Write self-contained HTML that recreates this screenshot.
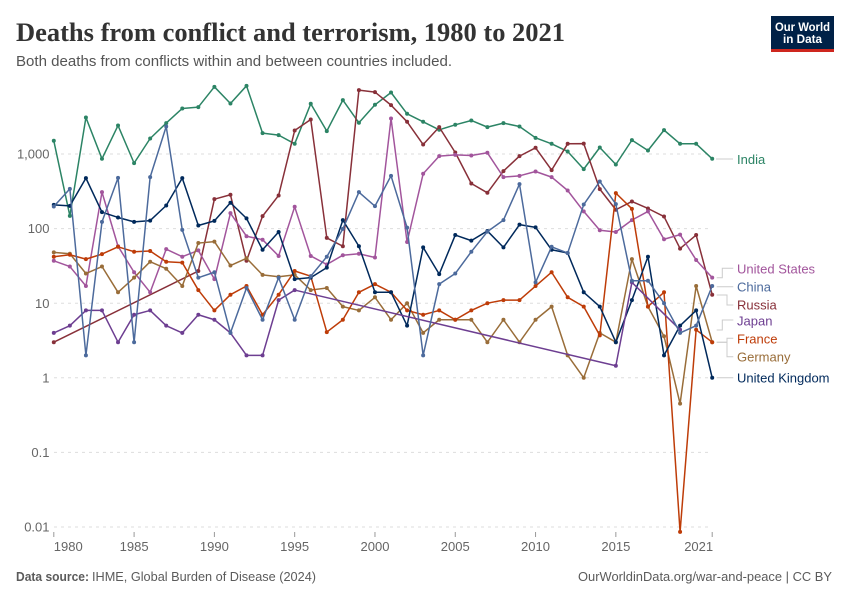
<!DOCTYPE html>
<html lang="en">
<head>
<meta charset="utf-8">
<title>Deaths from conflict and terrorism, 1980 to 2021</title>
<style>
html,body{margin:0;padding:0;background:#fff;width:850px;height:600px;overflow:hidden}
svg{display:block}
text{font-family:"Liberation Sans",sans-serif}
</style>
</head>
<body>
<svg id="chart" xmlns="http://www.w3.org/2000/svg" width="850" height="600" viewBox="0 0 850 600">
  <rect x="0" y="0" width="850" height="600" fill="#fff"/>
  <text x="16" y="41" font-size="26" font-weight="700" fill="#333" style="font-family:'Liberation Serif',serif" textLength="549" lengthAdjust="spacingAndGlyphs">Deaths from conflict and terrorism, 1980 to 2021</text>
  <text x="16" y="66" font-size="14.5" fill="#555" textLength="436" lengthAdjust="spacingAndGlyphs">Both deaths from conflicts within and between countries included.</text>
  <g>
    <rect x="771" y="16" width="63" height="36" fill="#002147"/>
    <rect x="771" y="49" width="63" height="3" fill="#ce261e"/>
    <text x="802.5" y="31" font-size="12" font-weight="700" fill="#fff" text-anchor="middle" textLength="55" lengthAdjust="spacingAndGlyphs">Our World</text>
    <text x="802.5" y="43" font-size="12" font-weight="700" fill="#fff" text-anchor="middle" textLength="39" lengthAdjust="spacingAndGlyphs">in Data</text>
  </g>
  <g id="grid"></g>
  <g id="xaxis"></g>
  <g id="leaders"></g>
  <g id="series"></g>
  <g id="labels"></g>
  <text y="581" font-size="13" fill="#5b5b5b"><tspan x="16" font-weight="700" textLength="73" lengthAdjust="spacingAndGlyphs">Data source:</tspan><tspan x="92" textLength="224" lengthAdjust="spacingAndGlyphs">IHME, Global Burden of Disease (2024)</tspan></text>
  <text x="578" y="581" font-size="13" fill="#5b5b5b" textLength="254" lengthAdjust="spacingAndGlyphs">OurWorldinData.org/war-and-peace | CC BY</text>
</svg>
<script>
const years = [];
for (let yr = 1980; yr <= 2021; yr++) years.push(yr);

const india = [1503,148,3085,862,2410,755,1614,2595,4074,4254,
  7950,4753,8204,1906,1792,1370,4710,2027,5276,2620,
  4565,6677,3458,2701,2110,2462,2813,2292,2595,2338,
  1648,1370,1081,627,1222,723,1536,1114,2090,1370,
  1370,862];
const russia = [3,null,null,null,null,null,null,null,null,27,
  248,284,37,147,278,2066,2902,75,58,7182,
  6760,4522,2701,1340,2292,1047,402,302,590,937,
  1211,608,1370,1380,338,179,231,186,145,54,
  82,13];
const unitedStates = [37,31,17,308,58,26,14,53,42,51,
  21,161,79,71,43,196,43,33,44,46,
  41,2992,66,543,937,975,955,1038,490,510,
  583,490,324,170,95,90,130,170,72,83,
  38,22];
const germany = [48,46,25,31,14,22,36,29,17,64,
  67,32,40,24,22.6,24,15,16,9,8,
  12,6,10,4,6,6,6,3,6,3,
  6,9,2,1,4,3,39,9,3.6,0.45,
  17,3];
const france = [42,44.6,39,45.5,57,49,50,36,35,15,
  8,13,17,7,13,27,23,4.1,6,14,
  18,14,8,7,8,6,8,10,11,11,
  17,26,12,9,3.7,299,184,9,14,0.0086,
  4.4,3];
const unitedKingdom = [208,202,475,166,141,123,128,204,475,110,
  127,222,137,52,90,21,22,30,130,58,
  14,14,5,56,24.5,82,69,93,56,113,
  104,52,47,14,9,3,11,42,2,5,
  8,1];
const japan = [4,5,8,8,3,7,8,5,4,7,
  6,4,2,2,11,15,null,null,null,null,
  null,null,null,null,null,null,null,null,null,null,
  null,null,null,null,null,1.45,19,null,null,4.4,
  null,null];
const china = [198,341,2,123,479,3,490,2338,96,22,
  26,4,16,6,22,6,23,42,99,308,
  200,510,103,2,18,25,49,91,130,395,
  19,57,47,210,428,213,20,20,10,4,
  5,17];

const yTickValues = [1000,100,10,1,0.1,0.01];
const yTickLabels = ["1,000","100","10","1","0.1","0.01"];
const xTickValues = [1980,1985,1990,1995,2000,2005,2010,2015,2021];
const seriesNames = ["India","Russia","United States","Germany","France","United Kingdom","Japan","China"];

const svgNS = "http://www.w3.org/2000/svg";
function xScale(yr){ return 53.8 + (yr - 1980) * (712.2 - 53.8) / 41; }
function yScale(v){ return 377.8 - Math.log10(v) * 74.6; }
function make(tag, attrs, parent){
  const el = document.createElementNS(svgNS, tag);
  for (const k in attrs) el.setAttribute(k, attrs[k]);
  parent.appendChild(el);
  return el;
}

const seriesValues = [india, russia, unitedStates, germany, france, unitedKingdom, japan, china];
const seriesColors = ["#2C8465","#883039","#A2559C","#996D39","#BE3C08","#00295B","#6D3E91","#4C6A9C"];

const gridGroup = document.getElementById("grid");
yTickValues.forEach(function(v, i){
  const line = make("line", {x1:54, x2:712, y1:yScale(v), y2:yScale(v), stroke:"#ddd", "stroke-width":1, "stroke-dasharray":"3 4"}, gridGroup);
  
  
  const t = make("text", {x:49.5, y:yScale(v)+4.6, "font-size":13, fill:"#666", "text-anchor":"end"}, gridGroup);
  
  
  t.textContent = yTickLabels[i];
});

const xGroup = document.getElementById("xaxis");
xTickValues.forEach(function(yr, i){
  const tick = make("line", {x1:xScale(yr), x2:xScale(yr), y1:532, y2:537, stroke:"#999", "stroke-width":1}, xGroup);
  
  
  let anchor = "middle", tx = xScale(yr);
  if (i === 0) { anchor = "start"; }
  if (i === xTickValues.length - 1) { anchor = "end"; tx += 1; }
  const t = make("text", {x:tx, y:551, "font-size":13, fill:"#666", "text-anchor":anchor, textLength:29, lengthAdjust:"spacingAndGlyphs"}, xGroup);
  
  
  t.textContent = yr;
});

const leaderGroup = document.getElementById("leaders");
const leaderPaths = [
  "M716 159H733",
  "M716.7 277.7H722.3V268.3H733.3",
  "M716.7 286.7H733.3",
  "M716.7 295H727V305H733.3",
  "M716.7 330H722.3V320H733.3",
  "M716.7 342.3H727V338.3H733.3",
  "M716.7 342.3H727V356.7H733.3",
  "M716.7 377.7H733.3"
];
leaderPaths.forEach(function(d){
  const p = make("path", {d:d, fill:"none", stroke:"#ccc", "stroke-width":1}, leaderGroup);
  
  
});

const seriesGroup = document.getElementById("series");
seriesValues.forEach(function(vals, s){
  const g = make("g", {}, seriesGroup);
  
  
  let d = "";
  vals.forEach(function(v, i){
    if (v === null) return;
    d += (d ? "L" : "M") + xScale(years[i]).toFixed(2) + " " + yScale(v).toFixed(2);
  });
  const path = make("path", {d:d, fill:"none", stroke:seriesColors[s], "stroke-width":1.5, "stroke-linejoin":"round"}, g);
  
  
  vals.forEach(function(v, i){
    if (v === null) return;
    const c = make("circle", {cx:xScale(years[i]), cy:yScale(v), r:2, fill:seriesColors[s]}, g);
    
    
  });
});

const labelGroup = document.getElementById("labels");
const labelNames = ["India","United States","China","Russia","Japan","France","Germany","United Kingdom"];
const labelColors = ["#2C8465","#A2559C","#4C6A9C","#883039","#6D3E91","#BE3C08","#996D39","#00295B"];
const labelRows = [164,273.5,291.5,309.5,325.5,343.5,361.5,382.5];
labelNames.forEach(function(name, i){
  const t = make("text", {x:737, y:labelRows[i], "font-size":13, fill:labelColors[i]}, labelGroup);
  
  
  t.textContent = name;
});
</script>
</body>
</html>
